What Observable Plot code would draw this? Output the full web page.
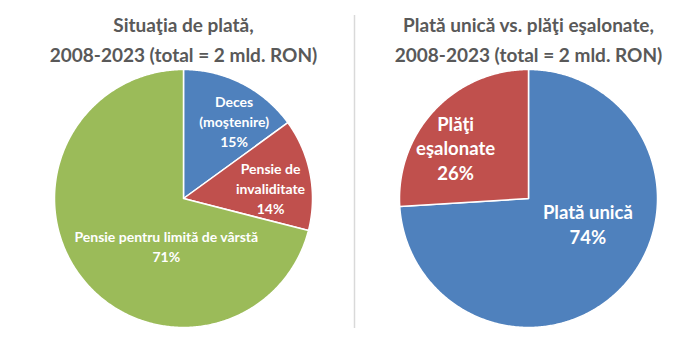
<!DOCTYPE html>
<html><head><meta charset="utf-8">
<script src="https://cdn.jsdelivr.net/npm/d3@7"></script>
<script src="https://cdn.jsdelivr.net/npm/@observablehq/plot@0.6"></script>
<style>body{margin:0;background:#fff;} #chart svg{display:block;}</style>
</head><body><div id="chart"></div>
<script>
// Data
const leftTitle = "Situaţia de plată,\n2008-2023 (total = 2 mld. RON)";
const leftCategories = ["Deces\n(moştenire)", "Pensie de\ninvaliditate", "Pensie pentru limită de vârstă"];
const leftValues = [15, 14, 71];
const rightTitle = "Plată unică vs. plăţi eşalonate,\n2008-2023 (total = 2 mld. RON)";
const rightCategories = ["Plată unică", "Plăţi\neşalonate"];
const rightValues = [74, 26];

// Styles / layout
const colorsLeft = ["#4F81BD", "#C0504D", "#9BBB59"];
const colorsRight = ["#4F81BD", "#C0504D"];
const pies = [
  {title: leftTitle, cats: leftCategories, vals: leftValues, colors: colorsLeft, cx: 183, cy: 198, r: 129,
   label: [{a: 33, f: 0.72}, {a: 83, f: 0.68}, {a: 200, f: 0.39}], fontSize: 14, lineHeight: 1.43, titleX: 183},
  {title: rightTitle, cats: rightCategories, vals: rightValues, colors: colorsRight, cx: 528, cy: 198, r: 129,
   label: [{a: 113, f: 0.5}, {a: 305, f: 0.69}], fontSize: 18.5, lineHeight: 1.32, titleX: 528}
];

const marks = [];
const font = "Lato, 'Open Sans', sans-serif";
for (const p of pies) {
  const arcs = d3.pie().sort(null).value(d => d)(p.vals);
  arcs.forEach((a, i) => {
    const pts = [[p.cx, p.cy]];
    const n = Math.max(2, Math.ceil((a.endAngle - a.startAngle) / 0.01));
    for (let k = 0; k <= n; k++) {
      const t = a.startAngle + (a.endAngle - a.startAngle) * k / n;
      pts.push([p.cx + p.r * Math.sin(t), p.cy - p.r * Math.cos(t)]);
    }
    pts.push([p.cx, p.cy]);
    marks.push(Plot.line(pts, {x: d => d[0], y: d => d[1], fill: p.colors[i], stroke: "#fff", strokeWidth: 1.5, strokeLinejoin: "round"}));
  });
  const labels = p.cats.map((c, i) => {
    const L = p.label[i];
    const t = L.a * Math.PI / 180;
    return {text: c + "\n" + p.vals[i] + "%", x: p.cx + L.f * p.r * Math.sin(t), y: p.cy - L.f * p.r * Math.cos(t)};
  });
  marks.push(Plot.text(labels, {x: "x", y: "y", text: "text", fill: "#fff", fontSize: p.fontSize, fontWeight: "bold", lineHeight: p.lineHeight, fontFamily: font}));
  marks.push(Plot.text([{t: p.title, x: p.titleX, y: 37}], {x: "x", y: "y", text: "t", fill: "#595959", fontSize: 19, fontWeight: "bold", lineHeight: 1.58, fontFamily: font}));
}
marks.push(Plot.ruleX([354], {y1: 15, y2: 328, stroke: "#d9d9d9", strokeWidth: 1.5}));

const chart = Plot.plot({
  width: 700, height: 352,
  margin: 0,
  x: {domain: [0, 700], range: [0, 700], axis: null},
  y: {domain: [0, 352], range: [0, 352], axis: null},
  style: {background: "#fff"},
  marks
});
document.getElementById("chart").appendChild(chart);
</script></body></html>
